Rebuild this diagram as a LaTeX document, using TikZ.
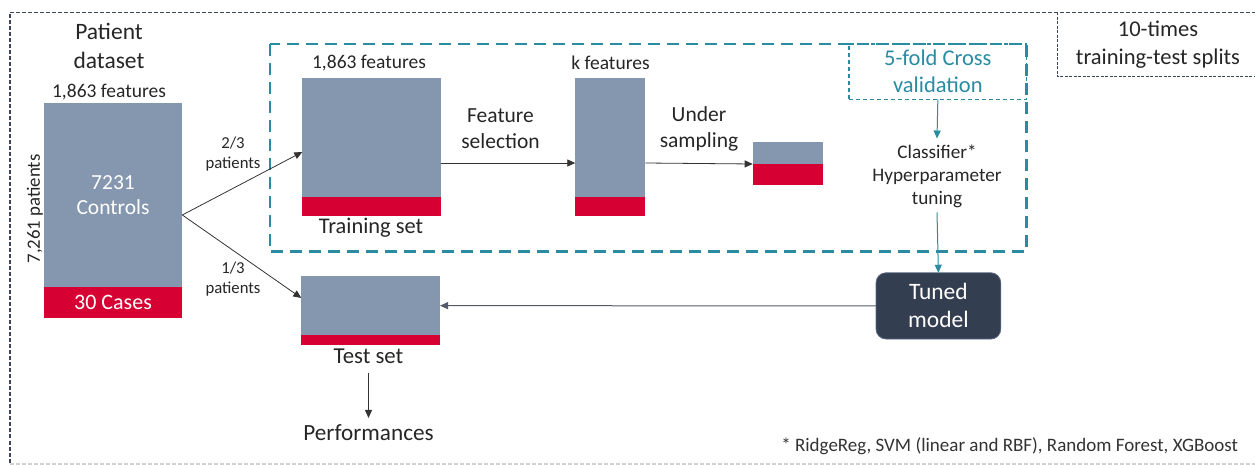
\documentclass[tikz,border=0pt]{standalone}
\usepackage{fontspec}
\setmainfont{Carlito}
\usetikzlibrary{arrows.meta,calc}
\definecolor{blockgray}{HTML}{8597AE}
\definecolor{caseRed}{HTML}{D70032}
\definecolor{cvteal}{HTML}{2A8BA1}
\definecolor{slate}{HTML}{333E50}
\definecolor{slateline}{HTML}{5A6985}
\definecolor{framegray}{HTML}{3D4658}
\newcommand\fsz[2]{\fontsize{#1}{#2}\selectfont}

\begin{document}
\begin{tikzpicture}[x=1pt,y=-1pt,
  every node/.style={inner sep=0pt, outer sep=0pt},
  ctrl/.style={fill=blockgray, anchor=north west},
  cases/.style={fill=caseRed, anchor=north west},
  lbl/.style={align=center, text=black!85},
  tip/.style={-{Triangle[length=8pt,width=7pt]}},
  link/.style={draw=black!80, line width=0.8pt, tip},
  cvlink/.style={draw=cvteal, line width=1pt, tip},
]
\useasboundingbox (0,0) rectangle (1255,465);

% outer frame of the repeated splits
\draw[framegray, line width=1.3pt, dash pattern=on 4pt off 2pt]
  (1262,12.5) -- (10,12.5) -- (10,464);
\draw[black!18, line width=1.3pt, dash pattern=on 4pt off 2pt]
  (10,464) -- (1262,464);
\draw[framegray, line width=1pt, dash pattern=on 3pt off 1.5pt]
  (1057,12.5) -- (1057,76.7) -- (1262,76.7);
\node[lbl, font=\fsz{22.5}{28}] (splits) at (1158,45) {10-times\\training-test splits};

% training loop frame
\draw[cvteal, line width=2.8pt, dash pattern=on 12pt off 7pt]
  (270,44) rectangle (1026.7,251.7);
\node[draw=cvteal, line width=1.1pt, dash pattern=on 4pt off 3pt,
      anchor=north west, minimum width=177.7pt, minimum height=55.3pt,
      align=center, text=cvteal, font=\fsz{22.5}{27}] (cv) at (849,44)
  {5-fold Cross\\validation};

% patient dataset
\node[lbl, font=\fsz{23.5}{29}] (title) at (109,46) {Patient\\dataset};
\node[lbl, font=\fsz{19.5}{20}] (dsfeat) at (109,92) {1,863 features};
\node[ctrl, minimum width=138.6pt, minimum height=184.6pt, align=center,
      text=white, font=\fsz{21.5}{25}] (ds) at (43.7,102.7) {7231\\Controls};
\node[cases, minimum width=138.6pt, minimum height=31pt,
      text=white, font=\fsz{22}{25}] (dscases) at (43.7,287.3) {30 Cases};
\node[lbl, rotate=90, font=\fsz{18.8}{22}] (npat) at (35,209) {7,261 patients};

% training set
\node[lbl, font=\fsz{19.5}{20}] (trfeat) at (369,63) {1,863 features};
\node[ctrl, minimum width=138.7pt, minimum height=119pt] (train) at (302.3,78.3) {};
\node[cases, minimum width=138.7pt, minimum height=18.4pt] (traincases) at (302.3,197.3) {};
\node[lbl, font=\fsz{22.4}{24}] (trlbl) at (371,228) {Training set};

% selected features
\node[lbl, font=\fsz{19.5}{20}] (kfeat) at (610.5,63) {k features};
\node[ctrl, minimum width=70pt, minimum height=119pt] (kset) at (575.3,78.3) {};
\node[cases, minimum width=70pt, minimum height=18.4pt] (kcases) at (575.3,197.3) {};

% undersampled set
\node[ctrl, minimum width=70pt, minimum height=22.3pt] (under) at (752.7,141.7) {};
\node[cases, minimum width=70pt, minimum height=21pt] (undercases) at (752.7,164) {};

\node[lbl, font=\fsz{21.5}{26}] (fslbl) at (500.5,129) {Feature\\selection};
\node[lbl, font=\fsz{21.5}{26}] (uslbl) at (699,129) {Under\\sampling};

% classifier tuning
\node[lbl, font=\fsz{19.2}{23}] (clf) at (937,176) {Classifier*\\Hyperparameter\\tuning};
\node[fill=slate, draw=slateline, line width=0.8pt, rounded corners=10pt,
      minimum width=124.7pt, minimum height=66.3pt, align=center,
      text=white, font=\fsz{23.5}{28}] (tuned) at (938.4,305.9) {Tuned\\model};

% test set
\node[ctrl, minimum width=138.7pt, minimum height=59.3pt] (test) at (301.3,276) {};
\node[cases, minimum width=138.7pt, minimum height=9.7pt] (testcases) at (301.3,335.3) {};
\node[lbl, font=\fsz{22.8}{25}] (testlbl) at (368.5,356) {Test set};
\node[lbl, font=\fsz{23.2}{26}] (perf) at (368.5,433) {Performances};

% split labels
\node[lbl, font=\fsz{16.7}{20.5}] (twothirds) at (233,154) {2/3\\patients};
\node[lbl, font=\fsz{16.7}{20.5}] (onethird) at (233,279) {1/3\\patients};

% footnote
\node[anchor=east, text=black!80, font=\fsz{19}{20}] (note) at (1238,446)
  {* RidgeReg, SVM (linear and RBF), Random Forest, XGBoost};

% connectors
\coordinate (fork) at ($(ds.east)+(0,20)$);
\draw[link] (fork) -- ($(train.west)+(0,14.2)$);
\draw[link] (fork) -- ($(test.west)+(0,-7.7)$);
\draw[link] ($(train.east)+(0,25.2)$) -- ($(kset.west)+(0,25.2)$);
\draw[link] ($(kset.east)+(0,25.2)$) -- (undercases.north west);
\draw[cvlink] (cv.south) -- ($(clf.north)+(0,-6)$);
\draw[cvlink] ($(clf.south)+(0,5)$) -- (tuned.north);
\draw[draw=slateline, line width=1pt, -{Triangle[length=8pt,width=7pt]}, color=slate!85]
  (tuned.west) -- (test.east);
\draw[link] ($(testlbl.south)+(0,10)$) -- ($(perf.north)+(0,-7)$);
\end{tikzpicture}
\end{document}
